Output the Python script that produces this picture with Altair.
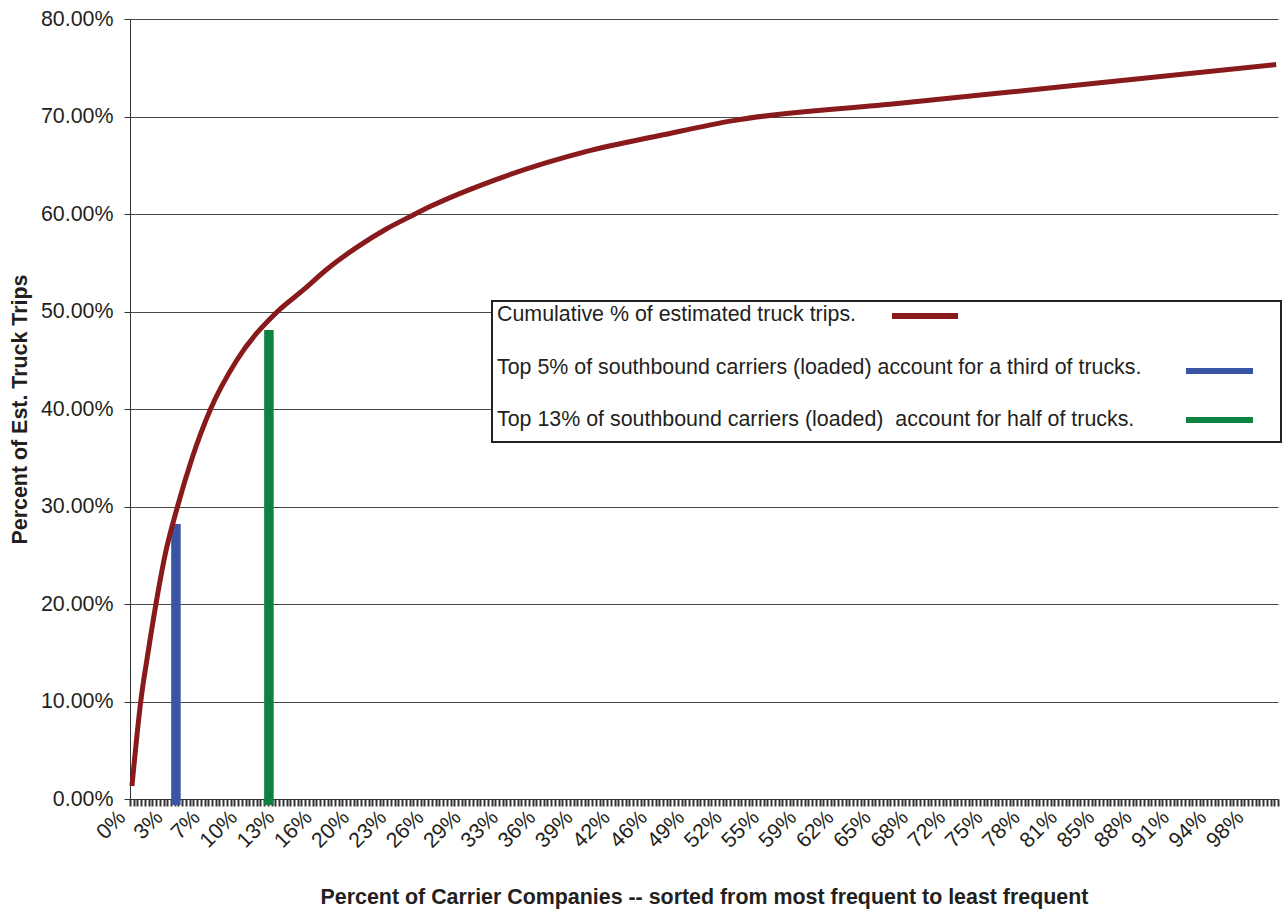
import altair as alt
import pandas as pd

# Cumulative share of estimated truck trips by share of carriers (sorted by frequency)
carrier_pct = [0.17, 0.93, 1.57, 2.26, 3.05, 4.14, 5.42, 7.02, 9.3, 12.85, 15.10, 17.13,
               19.75, 22.36, 24.39, 26.13, 31.94, 39.78, 46.46, 52.55, 67.07, 84.49, 99.84]
trip_share = [1.33, 9.95, 15.0, 20.0, 25.0, 30.0, 35.0, 40.0, 45.0, 50.0, 52.21, 54.31,
              56.58, 58.49, 59.73, 60.76, 63.56, 66.42, 68.13, 69.58, 71.35, 73.46, 75.33]

# Marker bars for the top carrier groups
marker_names = ["top5", "top13"]
marker_pct = [4.0, 12.1]
marker_share = [28.2, 48.1]
marker_colors = ["#3A55A4", "#0E8241"]

legend_labels = [
    "Cumulative % of estimated truck trips.",
    "Top 5% of southbound carriers (loaded) account for a third of trucks.",
    "Top 13% of southbound carriers (loaded)\u00a0 account for half of trucks.",
]

# Category axis: one tick per carrier bucket, a label on every tenth bucket
n_buckets = 308
tick_labels = ["0%", "3%", "7%", "10%", "13%", "16%", "20%", "23%", "26%", "29%",
               "33%", "36%", "39%", "42%", "46%", "49%", "52%", "55%", "59%", "62%",
               "65%", "68%", "72%", "75%", "78%", "81%", "85%", "88%", "91%", "94%", "98%"]

FONT = "Liberation Sans"
TEXT = "#231F20"
CURVE = "#891A1C"
FS = 21.4

curve_df = pd.DataFrame({"x": carrier_pct, "y": [v / 100 for v in trip_share]})
marker_df = pd.DataFrame({
    "name": marker_names,
    "x": marker_pct,
    "y": [v / 100 for v in marker_share],
    "color": marker_colors,
})

tick_values = [k * 100 / n_buckets for k in range(n_buckets + 1)]
labels_js = "[" + ",".join("'" + t + "'" for t in tick_labels) + "]"
idx = f"round(datum.value*{n_buckets}/100)"
label_expr = f"({idx} % 10 == 0) ? {labels_js}[{idx}/10] : ''"

x_scale = alt.Scale(domain=[0, 100], nice=False, zero=False)
y_scale = alt.Scale(domain=[0, 0.8], nice=False)

x_axis = alt.Axis(
    title="Percent of Carrier Companies -- sorted from most frequent to least frequent",
    values=tick_values,
    tickCount=2000,
    labelExpr=label_expr,
    labelAngle=-45,
    labelAlign="right",
    labelBaseline="middle",
    labelOverlap=False,
    labelFlush=False,
    labelPadding=8,
    labelOffset=-8,
    labelFontSize=FS,
    tickSize=7,
    tickWidth=2,
    tickColor="#333333",
    grid=False,
    domainColor="#333333",
    domainWidth=1,
    titleFontSize=FS,
    titleFontWeight="bold",
    titleY=98,
    titleBaseline="middle",
)

y_axis = alt.Axis(
    title="Percent of Est. Truck Trips",
    values=[i / 10 for i in range(9)],
    format=".2%",
    labelFontSize=FS,
    labelPadding=11,
    tickSize=6,
    tickColor="#333333",
    grid=True,
    gridColor="#4a4a4a",
    gridWidth=1,
    domainColor="#333333",
    titleFontSize=FS,
    titleFontWeight="bold",
    titleX=-110,
    titleBaseline="middle",
)

bars = alt.Chart(marker_df).mark_rule(strokeWidth=9.5, strokeCap="butt", y2Offset=6).encode(
    x=alt.X("x:Q", scale=x_scale, axis=x_axis),
    y=alt.Y("y:Q", scale=y_scale, axis=y_axis),
    y2=alt.datum(0),
    color=alt.Color("color:N", scale=None, legend=None),
)

curve = alt.Chart(curve_df).mark_line(color=CURVE, strokeWidth=5, interpolate="monotone").encode(
    x=alt.X("x:Q", scale=x_scale),
    y=alt.Y("y:Q", scale=y_scale),
)

# Boxed key in the middle-right of the plot
one_row = alt.Data(values=[{"k": 0}])
box = alt.Chart(one_row).mark_rect(fill="white", stroke="#222222", strokeWidth=2).encode(
    x=alt.value(362), x2=alt.value(1151), y=alt.value(282), y2=alt.value(423)
)
key_text_y = [296, 349, 401]
key_layers = [box]
for label, ty in zip(legend_labels, key_text_y):
    key_layers.append(
        alt.Chart(one_row).mark_text(
            align="left", baseline="middle", font=FONT, fontSize=FS, color=TEXT
        ).encode(x=alt.value(367), y=alt.value(ty), text=alt.value(label))
    )
key_swatches = [(762, 828, 297, CURVE), (1056, 1123, 352, marker_colors[0]), (1056, 1123, 401, marker_colors[1])]
for sx, sx2, sy, col in key_swatches:
    key_layers.append(
        alt.Chart(one_row).mark_rule(color=col, strokeWidth=6, strokeCap="butt").encode(
            x=alt.value(sx), x2=alt.value(sx2), y=alt.value(sy)
        )
    )

chart = alt.layer(bars, curve, *key_layers).properties(
    width=1148,
    height=780,
    padding={"left": 130, "top": 19, "right": 5, "bottom": 113},
    autosize=alt.AutoSizeParams(type="none"),
    background="white",
).configure_view(stroke=None).configure_axis(
    labelFont=FONT, titleFont=FONT, labelColor=TEXT, titleColor=TEXT
)

chart.save("out.html", embed_options={"renderer": "svg", "actions": False})
